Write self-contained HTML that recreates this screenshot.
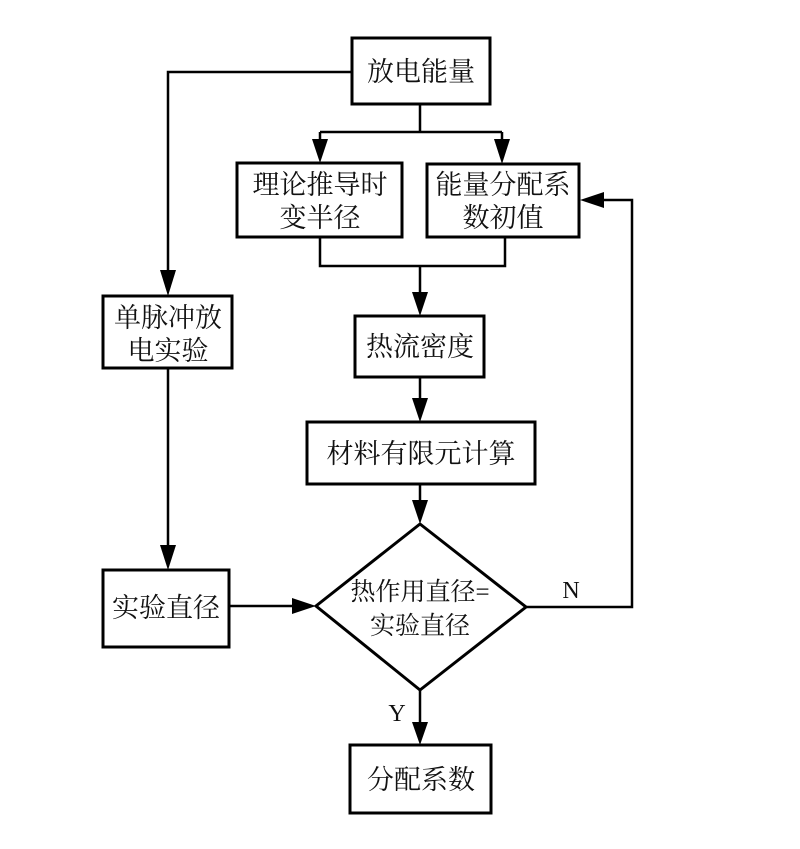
<!DOCTYPE html>
<html><head><meta charset="utf-8"><style>
html,body{margin:0;padding:0;background:#fff;}
svg{display:block;}
text{font-family:"Liberation Serif","Noto Serif CJK SC",serif;font-size:27px;fill:#111;text-anchor:middle;}
</style></head><body>
<svg width="800" height="849" viewBox="0 0 800 849" xmlns="http://www.w3.org/2000/svg">
<defs>
<marker id="a" markerWidth="10" markerHeight="10" refX="10" refY="5" orient="auto" markerUnits="userSpaceOnUse" viewBox="0 0 10 10">
<path d="M0,0 L10,5 L0,10 z" fill="#000"/></marker>
</defs>
<g fill="none" stroke="#000" stroke-width="3">
<rect x="352" y="38" width="138" height="66"/>
<rect x="237" y="163" width="165" height="74"/>
<rect x="427" y="164" width="152" height="73"/>
<rect x="103" y="296" width="129" height="72"/>
<rect x="355" y="316" width="129" height="61"/>
<rect x="307" y="422" width="228" height="62"/>
<rect x="103" y="570" width="126" height="77"/>
<rect x="350" y="745" width="141" height="68"/>
<polygon points="420,524 526,607 420,690 316,606"/>
</g>
<g fill="none" stroke="#000" stroke-width="2.5">
<path d="M352,72 H168 V270"/>
<path d="M168,368 V545"/>
<path d="M420,104 V132 M320,132 H502 M320,132 V140 M502,132 V140"/>
<path d="M320,237 V266 H505 V237 M420,266 V292"/>
<path d="M420,377 V398"/>
<path d="M420,484 V500"/>
<path d="M229,606 H292"/>
<path d="M526,607 H632 V200 H604"/>
<path d="M420,690 V722"/>
</g>
<g fill="#000">
<path d="M160,270 L176,270 L168,296 z"/>
<path d="M160,545 L176,545 L168,570 z"/>
<path d="M312,139 L328,139 L320,163 z"/>
<path d="M494,139 L510,139 L502,164 z"/>
<path d="M412,292 L428,292 L420,316 z"/>
<path d="M412,398 L428,398 L420,422 z"/>
<path d="M412,500 L428,500 L420,524 z"/>
<path d="M292,598 L292,614 L316,606 z"/>
<path d="M604,192 L604,208 L580,200 z"/>
<path d="M412,722 L428,722 L420,745 z"/>
</g>
<text x="421" y="81">放电能量</text>
<text x="320" y="194">理论推导时</text>
<text x="320" y="227">变半径</text>
<text x="503" y="194">能量分配系</text>
<text x="503" y="227">数初值</text>
<text x="168" y="327">单脉冲放</text>
<text x="168" y="360">电实验</text>
<text x="420" y="356">热流密度</text>
<text x="421" y="463">材料有限元计算</text>
<text x="166" y="617">实验直径</text>
<text x="420" y="600" style="font-size:25px">热作用直径=</text>
<text x="420" y="634" style="font-size:25px">实验直径</text>
<text x="571" y="598" style="font-size:24px">N</text>
<text x="397" y="721" style="font-size:24px">Y</text>
<text x="421" y="789">分配系数</text>
</svg>
</body></html>
